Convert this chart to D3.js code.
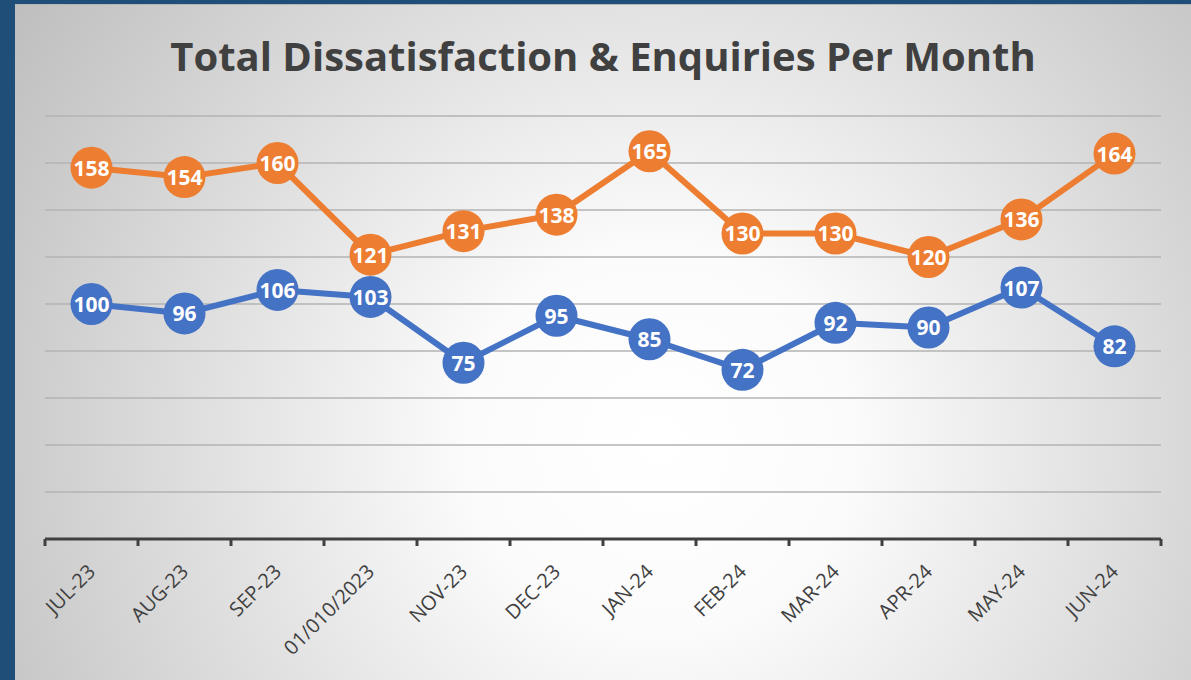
<!DOCTYPE html>
<html>
<head>
<meta charset="utf-8">
<script src="https://cdn.jsdelivr.net/npm/d3@7"></script>
<style>
  html, body { margin: 0; padding: 0; background: #1f4e79; }
  svg { display: block; }
</style>
</head>
<body>
<svg width="1191" height="680"></svg>
<script>
// months on the x axis (the 4th label is shown like that in the original)
var months = ["JUL-23", "AUG-23", "SEP-23", "01/010/2023", "NOV-23", "DEC-23",
              "JAN-24", "FEB-24", "MAR-24", "APR-24", "MAY-24", "JUN-24"]

// the two series
var orangeVals = [158, 154, 160, 121, 131, 138, 165, 130, 130, 120, 136, 164]
var blueVals   = [100, 96, 106, 103, 75, 95, 85, 72, 92, 90, 107, 82]

var gridTicks = [20, 40, 60, 80, 100, 120, 140, 160, 180]

var svg = d3.select("svg")

// background with the soft radial shading
var defs = svg.append("defs")
var grad = defs.append("radialGradient")
  .attr("id", "bg")
  .attr("gradientUnits", "userSpaceOnUse")
  .attr("cx", 660).attr("cy", 440).attr("r", 780)
grad.append("stop").attr("offset", "0%").attr("stop-color", "#ffffff")
grad.append("stop").attr("offset", "25%").attr("stop-color", "#fbfbfb")
grad.append("stop").attr("offset", "100%").attr("stop-color", "#bebebe")

svg.append("rect")
  .attr("x", 15).attr("y", 4)
  .attr("width", 1176).attr("height", 676)
  .attr("fill", "url(#bg)")
svg.append("line")
  .attr("x1", 15).attr("x2", 1191).attr("y1", 4.5).attr("y2", 4.5)
  .attr("stroke", "#b5b5b5").attr("stroke-width", 1)

// title
svg.append("text")
  .attr("x", 603).attr("y", 71)
  .attr("text-anchor", "middle")
  .style("font-family", "'Open Sans', sans-serif")
  .style("font-weight", "bold")
  .style("font-size", "40px")
  .style("fill", "#404040")
  .text("Total Dissatisfaction & Enquiries Per Month")

// scales
var x = d3.scalePoint().domain(months).range([45, 1161]).padding(0.5)
var band = d3.scaleBand().domain(months).range([45, 1161])
var y = d3.scaleLinear().domain([0, 180]).range([539, 116])

// gridlines
svg.selectAll("line.grid")
  .data(gridTicks)
  .enter().append("line")
    .attr("class", "grid")
    .attr("x1", 45).attr("x2", 1161)
    .attr("y1", function(d) { return y(d) })
    .attr("y2", function(d) { return y(d) })
    .attr("stroke", "#b3b3b3")
    .attr("stroke-width", 1.5)

// x axis with ticks between categories
var edges = months.map(function(m) { return band(m) }).concat([1161])
var axis = svg.append("g")
axis.append("line")
  .attr("x1", 45).attr("x2", 1161).attr("y1", y(0)).attr("y2", y(0))
  .attr("stroke", "#404040").attr("stroke-width", 3)
axis.selectAll("line.tick")
  .data(edges)
  .enter().append("line")
    .attr("class", "tick")
    .attr("x1", function(d) { return d }).attr("x2", function(d) { return d })
    .attr("y1", y(0)).attr("y2", y(0) + 7)
    .attr("stroke", "#404040").attr("stroke-width", 3)

axis.selectAll("text")
  .data(months)
  .enter().append("text")
    .attr("transform", function(d) { return "translate(" + (x(d) + 5) + "," + 573 + ") rotate(-45)" })
    .attr("text-anchor", "end")
    .style("font-family", "'Open Sans', sans-serif")
    .style("font-size", "20px")
    .style("fill", "#404040")
    .text(function(d) { return d })

// series: orange first, blue on top
var series = [
  { vals: orangeVals, color: "#ed7d31" },
  { vals: blueVals, color: "#4472c4" }
]

var line = d3.line()
  .x(function(d, i) { return x(months[i]) })
  .y(function(d) { return y(d) })

series.forEach(function(s) {
  var g = svg.append("g")
  g.append("path")
    .attr("d", line(s.vals))
    .attr("fill", "none")
    .attr("stroke", s.color)
    .attr("stroke-width", 6)
    .attr("stroke-linejoin", "round")

  var pts = g.selectAll("g.pt")
    .data(s.vals)
    .enter().append("g")
      .attr("transform", function(d, i) { return "translate(" + x(months[i]) + "," + y(d) + ")" })
  pts.append("circle")
    .attr("r", 21)
    .attr("fill", s.color)
  pts.append("text")
    .attr("text-anchor", "middle")
    .attr("dy", "0.38em")
    .style("font-family", "'Open Sans', sans-serif")
    .style("font-weight", "bold")
    .style("font-size", "21px")
    .style("fill", "#ffffff")
    .text(function(d) { return d })
})
</script>
</body>
</html>
